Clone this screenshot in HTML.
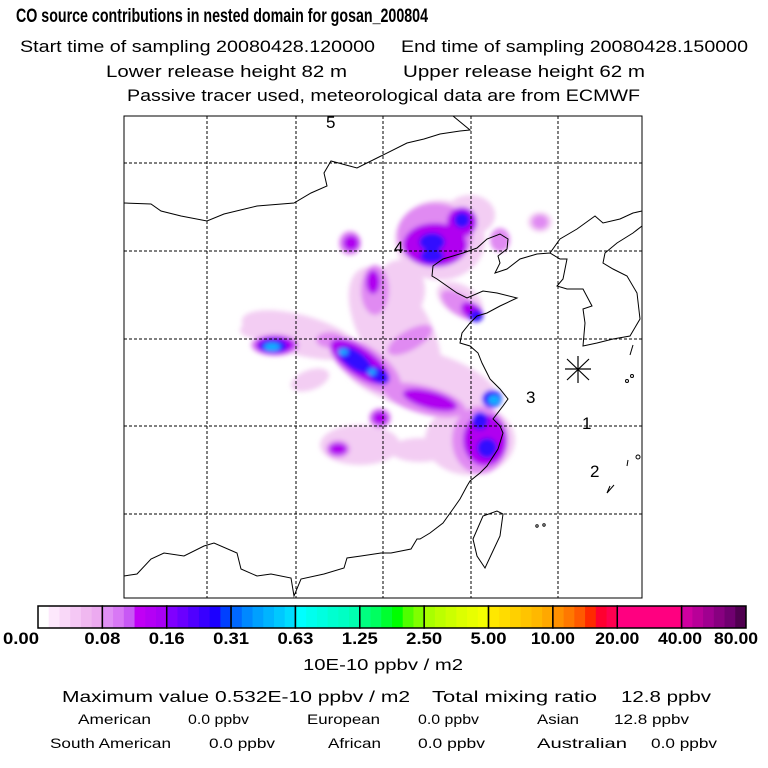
<!DOCTYPE html>
<html><head><meta charset="utf-8"><style>
html,body{margin:0;padding:0;background:#fff}
svg{display:block;font-family:"Liberation Sans",sans-serif}
</style></head><body>
<svg width="768" height="768" viewBox="0 0 768 768">
<defs>
<filter id="bl" x="-50%" y="-50%" width="200%" height="200%"><feGaussianBlur stdDeviation="2.5"/></filter>
<clipPath id="mapclip"><rect x="124" y="116" width="518" height="482"/></clipPath>
</defs>
<g fill="#000">
<text x="16" y="22" font-size="19" font-weight="bold" textLength="412" lengthAdjust="spacingAndGlyphs">CO  source contributions in nested domain for gosan_200804</text>
<text x="20" y="52" font-size="17" textLength="355" lengthAdjust="spacingAndGlyphs">Start time of sampling 20080428.120000</text>
<text x="401" y="52" font-size="17" textLength="347" lengthAdjust="spacingAndGlyphs">End time of sampling 20080428.150000</text>
<text x="106" y="77" font-size="17" textLength="241" lengthAdjust="spacingAndGlyphs">Lower release height   82 m</text>
<text x="403" y="77" font-size="17" textLength="242" lengthAdjust="spacingAndGlyphs">Upper release height   62 m</text>
<text x="127" y="101" font-size="17" textLength="513" lengthAdjust="spacingAndGlyphs">Passive tracer used, meteorological data are from ECMWF</text>
</g>
<g id="map" clip-path="url(#mapclip)">
<g id="plume" filter="url(#bl)"></g>
<g id="grid"></g>
<g fill="none" stroke="#000" stroke-width="1">
<polyline points="124,203 151,204 161,211 181,216 207,221 224,214 257,206 294,203 311,193 327,186 324,173 331,161 357,168 381,156 407,143 424,139 440,134 460,131 470,130 453,116"/>
<polyline points="124,576 137,574 151,559 164,553 184,556 204,546 214,543 237,553 241,569 257,576 271,574 291,578 294,596 301,579 324,574 344,568 347,558 361,556 381,553 391,553 411,549 417,539 420,539 430,533 443,523 453,509 460,499 467,486 470,481 480,473 487,466 498,449 503,433 500,426 493,419 503,406 508,399 500,389 490,379 482,363 478,353 470,346 460,343 462,333 470,323 477,316 487,313 500,306 517,298 497,293 483,291 467,298 457,293 447,286 437,279 432,276 433,266 443,259 463,253 477,248 487,239 500,234 508,239 507,249 498,256 500,263 495,273 507,269 520,259 537,254 550,253 560,259 567,259 563,279 557,286 567,289 583,289 592,306 583,309 585,323 583,346 597,343 613,339 630,336 640,319 637,293 627,276 613,269 603,263 605,253 617,243 633,233 642,226"/>
<polyline points="550,253 560,239 577,229 595,216 603,223 620,219 633,213 642,211"/>
<polygon points="473,539 483,516 497,511 503,514 500,536 492,553 485,568 477,556"/>
<polyline points="633,345 630,355"/><circle cx="632" cy="376" r="1.5"/><circle cx="627" cy="381" r="1.5"/><circle cx="638" cy="457" r="2"/><polyline points="628,460 627,466"/><polyline points="610,486 607,493 614,485"/><circle cx="537" cy="526" r="1.2"/><circle cx="544" cy="525" r="1.2"/>
</g>
<g stroke="#000" stroke-width="1.2">
<line x1="567" y1="359" x2="589" y2="380"/><line x1="567" y1="380" x2="589" y2="359"/><line x1="578" y1="356" x2="578" y2="383"/><line x1="565" y1="369" x2="591" y2="369"/>
</g>
<g font-size="17" fill="#000">
<text x="326" y="128">5</text><text x="394" y="253">4</text><text x="526" y="403">3</text><text x="582" y="429">1</text><text x="590" y="477">2</text>
</g>
</g>
<rect x="124" y="116" width="518" height="482" fill="none" stroke="#000" stroke-width="1"/>
<g id="cbar"></g>
<g id="cbl" font-size="17" font-weight="bold" fill="#000"></g>
<g fill="#000" font-size="16">
<text x="303" y="670" textLength="160" lengthAdjust="spacingAndGlyphs">10E-10 ppbv / m2</text>
<text x="62" y="702" textLength="348" lengthAdjust="spacingAndGlyphs">Maximum value  0.532E-10 ppbv / m2</text>
<text x="432" y="702" textLength="165" lengthAdjust="spacingAndGlyphs">Total mixing ratio</text>
<text x="621" y="702" textLength="90" lengthAdjust="spacingAndGlyphs">12.8 ppbv</text>
<g font-size="14">
<text x="78" y="724" textLength="73" lengthAdjust="spacingAndGlyphs">American</text>
<text x="188" y="724" textLength="61" lengthAdjust="spacingAndGlyphs">0.0 ppbv</text>
<text x="307" y="724" textLength="73" lengthAdjust="spacingAndGlyphs">European</text>
<text x="418" y="724" textLength="61" lengthAdjust="spacingAndGlyphs">0.0 ppbv</text>
<text x="537" y="724" textLength="42" lengthAdjust="spacingAndGlyphs">Asian</text>
<text x="614" y="724" textLength="75" lengthAdjust="spacingAndGlyphs">12.8 ppbv</text>
<text x="50" y="748" textLength="121" lengthAdjust="spacingAndGlyphs">South American</text>
<text x="209" y="748" textLength="66" lengthAdjust="spacingAndGlyphs">0.0 ppbv</text>
<text x="328" y="748" textLength="53" lengthAdjust="spacingAndGlyphs">African</text>
<text x="418" y="748" textLength="67" lengthAdjust="spacingAndGlyphs">0.0 ppbv</text>
<text x="537" y="748" textLength="90" lengthAdjust="spacingAndGlyphs">Australian</text>
<text x="651" y="748" textLength="66" lengthAdjust="spacingAndGlyphs">0.0 ppbv</text>
</g>
</g>
</svg>
<script>
const NS="http://www.w3.org/2000/svg";
const cbLabels=["0.00","0.08","0.16","0.31","0.63","1.25","2.50","5.00","10.00","20.00","40.00","80.00"];
const cbColors=[
["#ffffff","#fde8fc","#f9d8f8","#f5c8f5","#f0b8f0","#ecaaf0"],
["#e090f5","#d878f5","#c858f5","#c000f5","#b400f5","#a800f5"],
["#8000ff","#6a00ff","#5000ff","#3800ff","#1c00ff","#0040ff"],
["#0068ff","#0088ff","#00a0ff","#00b4ff","#00c8ff","#00dcff"],
["#00ffff","#00ffee","#00ffe0","#00ffd0","#00ffc4","#00ffb0"],
["#00ff80","#00ff60","#00ff30","#00ff00","#50ff00","#80ff00"],
["#a8ff00","#bcff00","#ccff00","#dcff00","#e8ff00","#f4ff00"],
["#ffe800","#ffdc00","#ffd000","#ffc400","#ffb800","#ffa800"],
["#ff9000","#ff7800","#ff5a00","#ff2a00","#ff0030","#ff0050"],
["#ff0080","#ff0080","#ff0080","#ff0080","#ff0080","#ff0080"],
["#d000a0","#b80098","#a00090","#880080","#700070","#500050"]];
// plume blobs: [cx, cy, rx, ry, rotation, level 0..4]
const plumeLevels=["#f3cdf3","#e08af2","#b000f0","#3010ff","#10b0ff"];
const plumeBlobs=[
[300,335,60,20,15,0],[395,330,35,70,-30,0],[420,380,80,30,15,0],[470,440,45,35,0,0],[360,445,40,20,0,0],[440,240,45,40,0,0],[400,290,25,30,0,0],[460,300,25,15,30,0],[540,222,12,10,0,0],[255,330,15,8,0,0],[310,380,20,10,-20,0],[420,450,30,12,0,0],[470,215,25,20,0,0],
[275,345,24,11,0,1],[365,365,42,18,35,1],[425,400,42,14,15,1],[480,440,28,34,0,1],[435,235,38,32,0,1],[375,290,14,25,0,1],[460,305,22,10,35,1],[500,240,10,12,0,1],[350,243,11,12,0,1],[380,418,11,10,0,1],[338,449,12,9,0,1],[540,222,8,7,0,1],[410,340,25,10,-30,1],[330,340,14,8,0,1],
[275,345,20,9,0,2],[360,362,35,14,35,2],[430,400,28,9,15,2],[485,440,22,26,0,2],[435,245,32,22,0,2],[462,222,15,15,0,2],[351,243,8,8,0,2],[373,282,7,12,0,2],[472,311,12,8,30,2],[380,418,8,7,0,2],[338,449,9,6,0,2],
[273,346,14,7,0,3],[355,360,20,9,35,3],[378,375,12,7,30,3],[432,242,13,9,0,3],[432,256,12,7,0,3],[462,220,8,8,0,3],[476,316,7,6,0,3],[492,399,10,9,0,3],[480,421,8,9,0,3],[487,448,10,10,0,3],
[272,347,8,4,0,4],[343,352,5,3,0,4],[372,372,4,3,0,4],[494,400,6,5,0,4]];
const gridX=[207,296,383,471,558], gridY=[163,251,339,426,514];

const plume=document.getElementById('plume');
for(const b of plumeBlobs){
 const e=document.createElementNS(NS,'ellipse');
 e.setAttribute('cx',b[0]);e.setAttribute('cy',b[1]);e.setAttribute('rx',b[2]);e.setAttribute('ry',b[3]);
 e.setAttribute('transform',`rotate(${b[4]} ${b[0]} ${b[1]})`);
 e.setAttribute('fill',plumeLevels[b[5]]);
 
 
 plume.appendChild(e);
}
const grid=document.getElementById('grid');
for(const x of gridX){const l=document.createElementNS(NS,'line');l.setAttribute('x1',x);l.setAttribute('x2',x);l.setAttribute('y1',116);l.setAttribute('y2',598);l.setAttribute('stroke','#000');l.setAttribute('stroke-dasharray','3,2');


grid.appendChild(l);}
for(const y of gridY){const l=document.createElementNS(NS,'line');l.setAttribute('y1',y);l.setAttribute('y2',y);l.setAttribute('x1',124);l.setAttribute('x2',642);l.setAttribute('stroke','#000');l.setAttribute('stroke-dasharray','3,2');


grid.appendChild(l);}

const cb=document.getElementById('cbar'), cbl=document.getElementById('cbl');
const x0=38,x1=746,y0=606,h=22,segW=(x1-x0)/cbColors.length;
cbColors.forEach((seg,i)=>{
 const sw=segW/seg.length;
 seg.forEach((c,j)=>{const r=document.createElementNS(NS,'rect');r.setAttribute('x',x0+i*segW+j*sw);r.setAttribute('y',y0);r.setAttribute('width',sw+0.5);r.setAttribute('height',h);r.setAttribute('fill',c);
 
 
 cb.appendChild(r);});
 const s=document.createElementNS(NS,'rect');s.setAttribute('x',x0+i*segW);s.setAttribute('y',y0);s.setAttribute('width',segW);s.setAttribute('height',h);s.setAttribute('fill','none');s.setAttribute('stroke','#000');s.setAttribute('stroke-width','1.5');
 
 
 cb.appendChild(s);
});
cbLabels.forEach((t,i)=>{
 const e=document.createElementNS(NS,'text');
 let cx=x0+i*segW; if(i===0)cx=21; if(i===cbLabels.length-2)cx=680; if(i===cbLabels.length-1)cx=736;
 e.setAttribute('x',cx);e.setAttribute('y',644);e.setAttribute('text-anchor','middle');
 e.setAttribute('textLength',t.length>4?44:36);e.setAttribute('lengthAdjust','spacingAndGlyphs');
 e.textContent=t;
 
 
 cbl.appendChild(e);
});
</script>
</body></html>
